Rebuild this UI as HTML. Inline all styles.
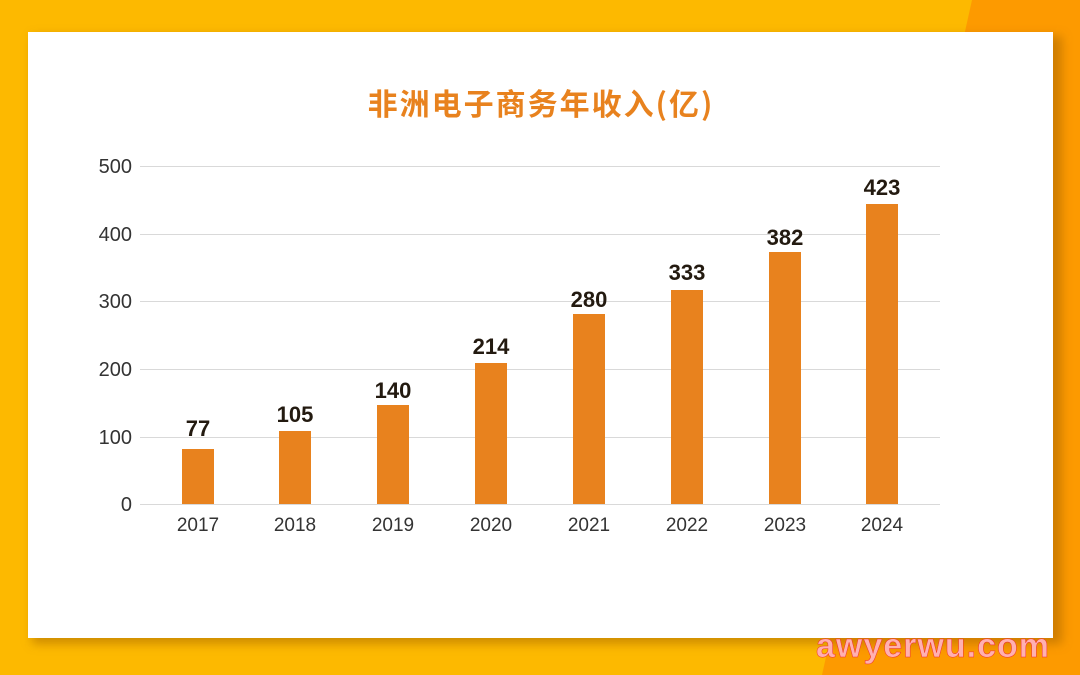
<!DOCTYPE html>
<html><head><meta charset="utf-8"><style>
html,body{margin:0;padding:0}
body{width:1080px;height:675px;position:relative;overflow:hidden;background:#FDB900;font-family:"Liberation Sans","Noto Sans CJK SC",sans-serif}
</style></head><body>
<svg width="1080" height="675" style="position:absolute;left:0;top:0">
<defs><filter id="sh" x="-5%" y="-5%" width="115%" height="115%"><feGaussianBlur stdDeviation="5"/></filter></defs>
<polygon points="972,0 1080,0 1080,675 822,675" fill="#FD9A00"/>
<rect x="32" y="36" width="1030" height="608" fill="#a0600080" filter="url(#sh)"/>
<rect x="28" y="32" width="1025" height="606" fill="#fff"/>
<text x="541" y="115" text-anchor="middle" font-size="30" font-weight="bold" fill="#E8821E" letter-spacing="2" font-family="Noto Sans CJK SC,sans-serif">非洲电子商务年收入(亿)</text>
<g stroke="#d9d9d9" stroke-width="1">
<line x1="140" x2="940" y1="166.5" y2="166.5"/><line x1="140" x2="940" y1="234.5" y2="234.5"/>
<line x1="140" x2="940" y1="301.5" y2="301.5"/><line x1="140" x2="940" y1="369.5" y2="369.5"/>
<line x1="140" x2="940" y1="437.5" y2="437.5"/><line x1="140" x2="940" y1="504.5" y2="504.5"/>
</g>
<g font-size="20" fill="#333" text-anchor="end">
<text x="132" y="173">500</text><text x="132" y="241">400</text><text x="132" y="308">300</text>
<text x="132" y="376">200</text><text x="132" y="444">100</text><text x="132" y="511">0</text>
</g>
<g fill="#E8821E">
<rect x="182" y="449" width="32" height="55"/><rect x="279" y="431" width="32" height="73"/>
<rect x="377" y="405" width="32" height="99"/><rect x="475" y="363" width="32" height="141"/>
<rect x="573" y="314" width="32" height="190"/><rect x="671" y="290" width="32" height="214"/>
<rect x="769" y="252" width="32" height="252"/><rect x="866" y="204" width="32" height="300"/>
</g>
<g font-size="22" font-weight="bold" fill="#231a10" text-anchor="middle">
<text x="198" y="436">77</text><text x="295" y="422">105</text><text x="393" y="398">140</text>
<text x="491" y="354">214</text><text x="589" y="307">280</text><text x="687" y="280">333</text>
<text x="785" y="245">382</text><text x="882" y="195">423</text>
</g>
<g font-size="19" fill="#333" text-anchor="middle">
<text x="198" y="531">2017</text><text x="295" y="531">2018</text><text x="393" y="531">2019</text>
<text x="491" y="531">2020</text><text x="589" y="531">2021</text><text x="687" y="531">2022</text>
<text x="785" y="531">2023</text><text x="882" y="531">2024</text>
</g>
<text x="933" y="657" text-anchor="middle" font-size="34" font-weight="bold" fill="#FFB0B0" stroke="#f03030" stroke-width="0.5" letter-spacing="1">awyerwu.com</text>
</svg>
</body></html>
